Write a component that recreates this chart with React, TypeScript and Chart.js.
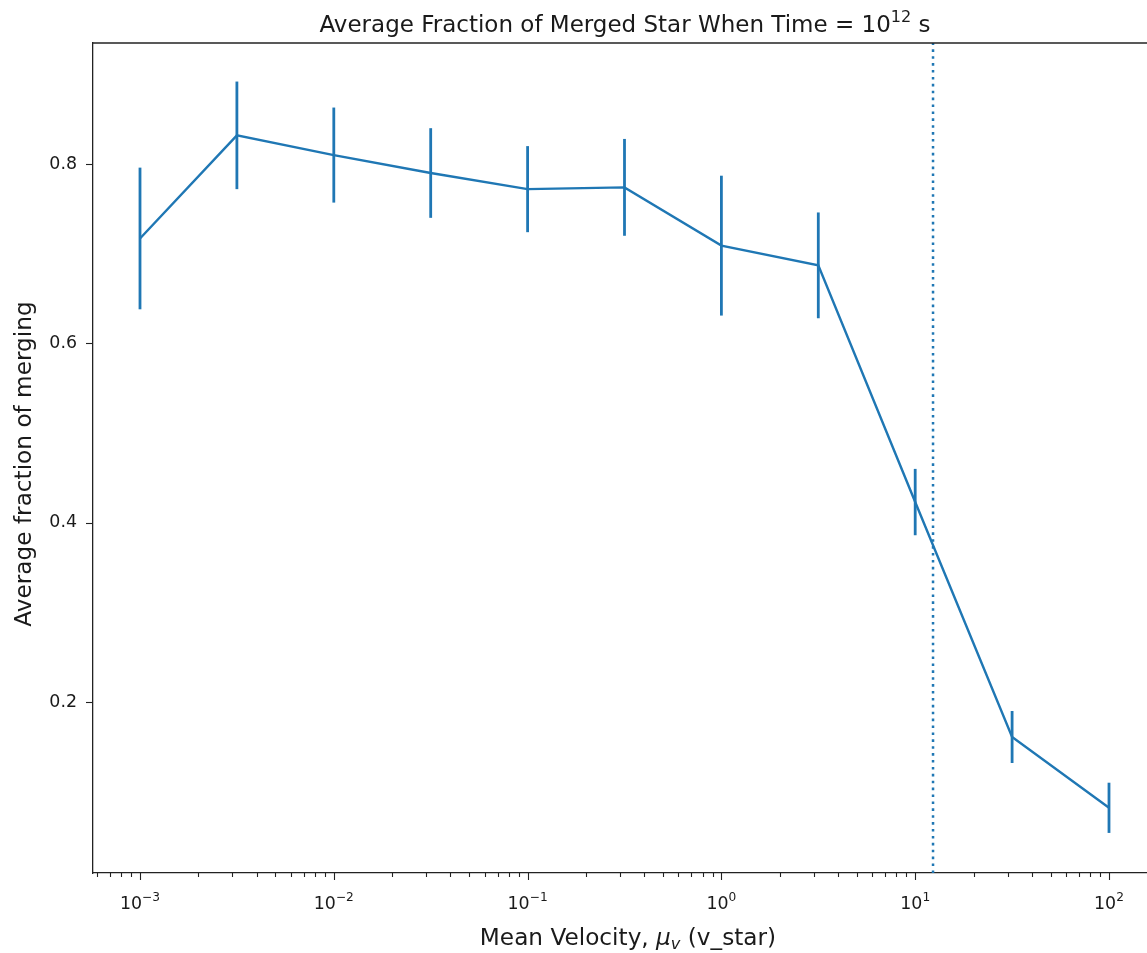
import React, { useEffect, useRef } from "react";
import { Chart, registerables } from "chart.js";

Chart.register(...registerables);

// ---- data ----
const velocities = [0.001, 0.0031623, 0.01, 0.031623, 0.1, 0.31623, 1, 3.1623, 10, 31.623, 100];
const fractions = [0.717, 0.832, 0.81, 0.79, 0.772, 0.774, 0.709, 0.687, 0.423, 0.161, 0.082];
const errors = [0.079, 0.06, 0.053, 0.05, 0.048, 0.054, 0.078, 0.059, 0.037, 0.029, 0.028];
const thresholdVelocity = 12.36;

const xMajorTicks = [0.001, 0.01, 0.1, 1, 10, 100];
const xTickExponents = ["\u22123", "\u22122", "\u22121", "0", "1", "2"];
const yTicks = [0.2, 0.4, 0.6, 0.8];
const yTickLabels = ["0.2", "0.4", "0.6", "0.8"];

const titleMain = "Average Fraction of Merged Star When Time = 10";
const titleExp = "12";
const titleTail = " s";
const xTitleHead = "Mean Velocity, ";
const xTitleSym = "\u03BC";
const xTitleSub = "v";
const xTitleTail = " (v_star)";
const yTitle = "Average fraction of merging";

const CANVAS_W = 1157;
const CANVAS_H = 953;
const X_MIN = Math.pow(10, -3.2425);
const X_MAX = Math.pow(10, 2.2477);
const Y_MIN = 0.0093;
const Y_MAX = 0.935;

const COLOR = "#1f77b4";
const TEXT = "#1a1a1a";
const FAMILY = "'DejaVu Sans', sans-serif";

function minorTicks(): number[] {
  const out: number[] = [];
  for (let k = -4; k <= 2; k++) {
    for (let m = 2; m <= 9; m++) {
      const v = m * Math.pow(10, k);
      if (v >= X_MIN && v <= X_MAX) out.push(v);
    }
  }
  return out;
}

type Run = { text: string; font: string; dy: number };

function drawRuns(ctx: CanvasRenderingContext2D, runs: Run[], cx: number, baseline: number) {
  let total = 0;
  const widths = runs.map((r) => {
    ctx.font = r.font;
    const w = ctx.measureText(r.text).width;
    total += w;
    return w;
  });
  let x = cx - total / 2;
  ctx.textAlign = "left";
  ctx.textBaseline = "alphabetic";
  runs.forEach((r, i) => {
    ctx.font = r.font;
    ctx.fillText(r.text, x, baseline + r.dy);
    x += widths[i];
  });
}

const axisPlugin = {
  id: "mplAxes",
  beforeDatasetsDraw(chart: any) {
    const { ctx, scales } = chart;
    const x = scales.x;
    const y = scales.y;
    ctx.save();
    ctx.strokeStyle = COLOR;
    ctx.lineWidth = 2.8;
    ctx.lineCap = "butt";
    velocities.forEach((v, i) => {
      const px = x.getPixelForValue(v);
      ctx.beginPath();
      ctx.moveTo(px, y.getPixelForValue(fractions[i] - errors[i]));
      ctx.lineTo(px, y.getPixelForValue(fractions[i] + errors[i]));
      ctx.stroke();
    });
    ctx.restore();
  },
  afterDraw(chart: any) {
    const { ctx, scales, chartArea } = chart;
    const x = scales.x;
    const y = scales.y;
    ctx.save();
    ctx.strokeStyle = "#222";
    ctx.lineWidth = 1.3;
    // top spine
    ctx.beginPath();
    ctx.moveTo(chartArea.left, chartArea.top);
    ctx.lineTo(chartArea.right + 2, chartArea.top);
    ctx.stroke();
    ctx.lineWidth = 1.1;
    xMajorTicks.forEach((v) => {
      const px = Math.round(x.getPixelForValue(v)) + 0.5;
      ctx.beginPath();
      ctx.moveTo(px, chartArea.bottom);
      ctx.lineTo(px, chartArea.bottom + 7);
      ctx.stroke();
    });
    minorTicks().forEach((v) => {
      const px = Math.round(x.getPixelForValue(v)) + 0.5;
      ctx.beginPath();
      ctx.moveTo(px, chartArea.bottom);
      ctx.lineTo(px, chartArea.bottom + 4);
      ctx.stroke();
    });
    yTicks.forEach((v) => {
      const py = Math.round(y.getPixelForValue(v)) + 0.5;
      ctx.beginPath();
      ctx.moveTo(chartArea.left, py);
      ctx.lineTo(chartArea.left - 7, py);
      ctx.stroke();
    });

    ctx.fillStyle = TEXT;
    // x tick labels with superscript exponents
    xMajorTicks.forEach((v, i) => {
      const px = x.getPixelForValue(v);
      drawRuns(
        ctx,
        [
          { text: "10", font: `17.4px ${FAMILY}`, dy: 0 },
          { text: xTickExponents[i], font: `12.2px ${FAMILY}`, dy: -8 },
        ],
        px,
        909
      );
    });

    const cx = (chartArea.left + chartArea.right) / 2;
    // title
    drawRuns(
      ctx,
      [
        { text: titleMain, font: `23px ${FAMILY}`, dy: 0 },
        { text: titleExp, font: `16.1px ${FAMILY}`, dy: -10 },
        { text: titleTail, font: `23px ${FAMILY}`, dy: 0 },
      ],
      cx,
      31.5
    );
    // x axis title
    drawRuns(
      ctx,
      [
        { text: xTitleHead, font: `23.2px ${FAMILY}`, dy: 0 },
        { text: xTitleSym, font: `italic 23.2px ${FAMILY}`, dy: 0 },
        { text: xTitleSub, font: `italic 16.2px ${FAMILY}`, dy: 4 },
        { text: xTitleTail, font: `23.2px ${FAMILY}`, dy: 0 },
      ],
      cx + 3,
      945
    );
    // y axis title
    ctx.save();
    ctx.translate(25, (chartArea.top + chartArea.bottom) / 2 + 6);
    ctx.rotate(-Math.PI / 2);
    ctx.font = `23.2px ${FAMILY}`;
    ctx.textAlign = "center";
    ctx.textBaseline = "middle";
    ctx.fillText(yTitle, 0, 0);
    ctx.restore();

    ctx.restore();
  },
};

export default function App() {
  const canvasRef = useRef<HTMLCanvasElement | null>(null);

  useEffect(() => {
    document.documentElement.style.overflow = "hidden";
    document.body.style.margin = "0";
    document.body.style.overflow = "hidden";
    const canvas = canvasRef.current;
    if (!canvas) return;
    const chart = new Chart(canvas, {
      type: "line",
      data: {
        datasets: [
          {
            data: velocities.map((v, i) => ({ x: v, y: fractions[i] })),
            borderColor: COLOR,
            borderWidth: 2.4,
            pointRadius: 0,
            fill: false,
            tension: 0,
          },
          {
            data: [
              { x: thresholdVelocity, y: Y_MIN },
              { x: thresholdVelocity, y: Y_MAX },
            ],
            borderColor: COLOR,
            borderWidth: 2.5,
            borderDash: [2.6, 4.3],
            borderCapStyle: "butt",
            pointRadius: 0,
            fill: false,
          },
        ],
      },
      options: {
        animation: false,
        responsive: false,
        devicePixelRatio: 1,
        layout: { padding: { top: 43, left: 0, right: 0, bottom: 0 } },
        plugins: {
          legend: { display: false },
          tooltip: { enabled: false },
          title: { display: false },
        },
        scales: {
          x: {
            type: "logarithmic",
            min: X_MIN,
            max: X_MAX,
            afterBuildTicks: (scale: any) => {
              scale.ticks = xMajorTicks.map((v) => ({ value: v }));
            },
            afterFit: (scale: any) => {
              scale.height = 80;
            },
            ticks: {
              autoSkip: false,
              maxRotation: 0,
              minRotation: 0,
              callback: () => "",
            },
            grid: {
              display: true,
              drawOnChartArea: false,
              drawTicks: false,
              color: "transparent",
            },
            border: { display: true, color: "#222", width: 1.3 },
            title: { display: false },
          },
          y: {
            type: "linear",
            min: Y_MIN,
            max: Y_MAX,
            afterBuildTicks: (scale: any) => {
              scale.ticks = yTicks.map((v) => ({ value: v }));
            },
            afterFit: (scale: any) => {
              scale.width = 93;
            },
            ticks: {
              autoSkip: false,
              color: TEXT,
              font: { family: FAMILY, size: 17.4 },
              padding: 8,
              callback: (value: any) => {
                const idx = yTicks.findIndex((t) => Math.abs(t - value) < 1e-9);
                return idx >= 0 ? yTickLabels[idx] : "";
              },
            },
            grid: {
              display: true,
              drawOnChartArea: false,
              drawTicks: true,
              tickLength: 8,
              color: "transparent",
              tickColor: "transparent",
            },
            border: { display: true, color: "#222", width: 1.3 },
            title: { display: false },
          },
        },
      },
      plugins: [axisPlugin],
    } as any);
    return () => chart.destroy();
  }, []);

  return (
    <div style={{ width: CANVAS_W, height: CANVAS_H }}>
      <canvas
        ref={canvasRef}
        width={CANVAS_W}
        height={CANVAS_H}
        style={{ display: "block", width: CANVAS_W, height: CANVAS_H }}
      />
    </div>
  );
}
